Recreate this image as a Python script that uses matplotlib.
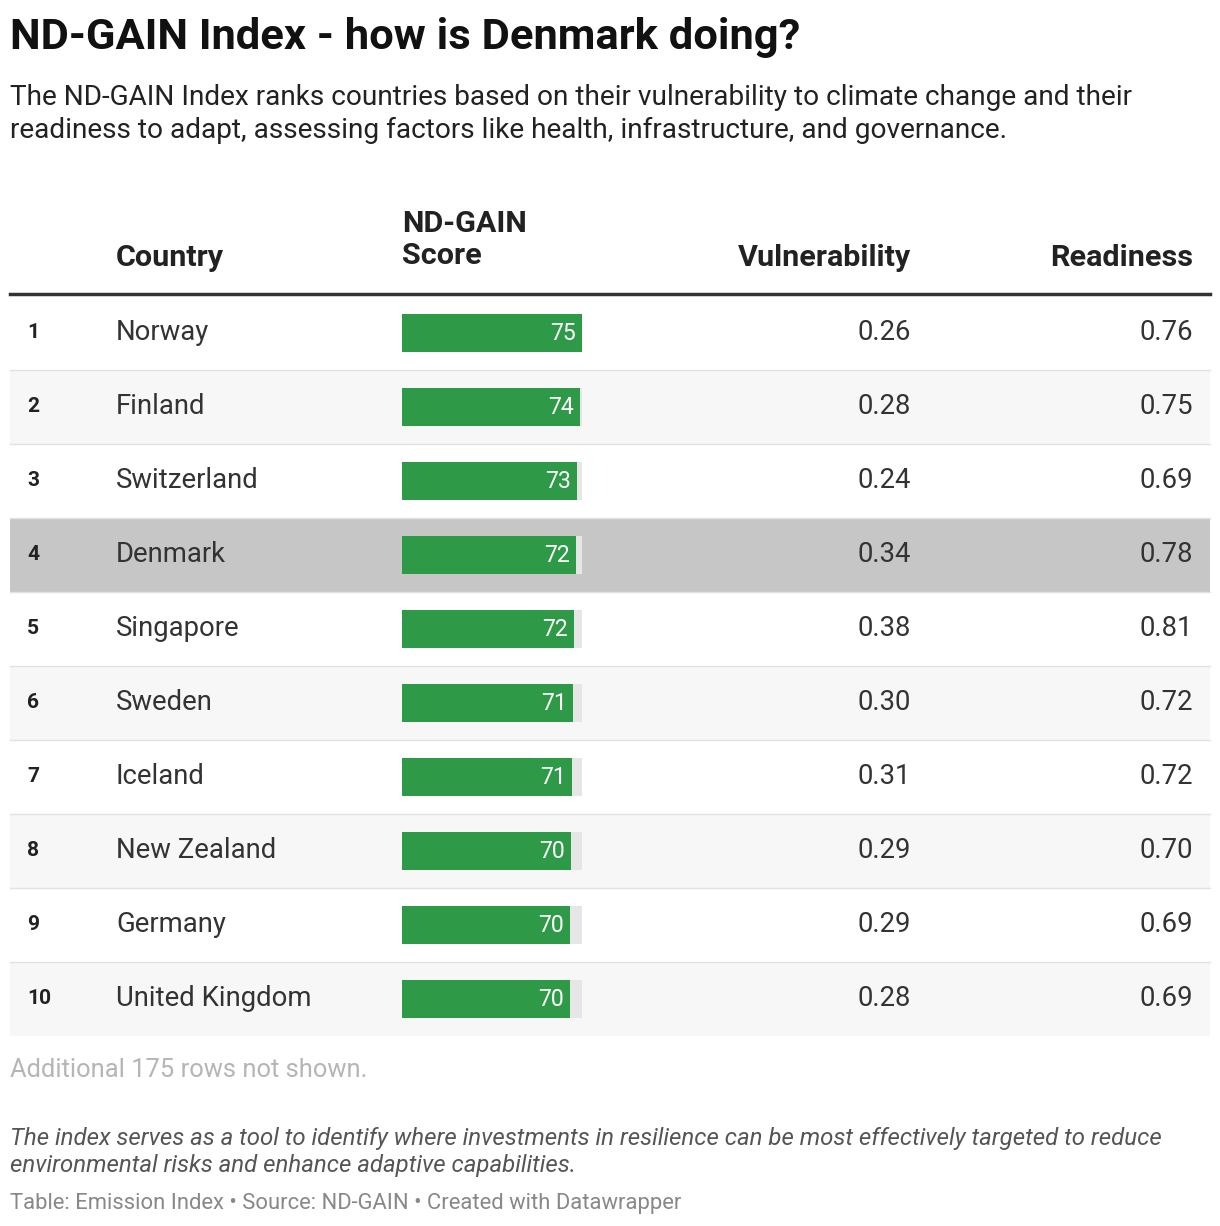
import matplotlib
matplotlib.use('Agg')
import matplotlib.pyplot as plt
from matplotlib.patches import Rectangle

plt.rcParams['font.family'] = ['Roboto', 'DejaVu Sans']

ranks = [1, 2, 3, 4, 5, 6, 7, 8, 9, 10]
countries = ['Norway', 'Finland', 'Switzerland', 'Denmark', 'Singapore',
             'Sweden', 'Iceland', 'New Zealand', 'Germany', 'United Kingdom']
scores = [75.0, 74.3, 72.8, 72.4, 71.7, 71.3, 71.0, 70.3, 70.1, 70.0]
vulnerability = ['0.26', '0.28', '0.24', '0.34', '0.38', '0.30', '0.31', '0.29', '0.29', '0.28']
readiness = ['0.76', '0.75', '0.69', '0.78', '0.81', '0.72', '0.72', '0.70', '0.69', '0.69']
highlight = 'Denmark'

W, H = 1220, 1226
fig = plt.figure(figsize=(W / 100, H / 100), dpi=100)
ax = fig.add_axes([0, 0, 1, 1])
ax.set_xlim(0, W)
ax.set_ylim(H, 0)
ax.axis('off')

def px(s):
    return s * 72 / 100

ax.text(10, 37, 'ND-GAIN Index - how is Denmark doing?', fontsize=px(43.5),
        fontweight='bold', va='center', color='#111111')
ax.text(10, 114, 'The ND-GAIN Index ranks countries based on their vulnerability to climate change and their\n'
        'readiness to adapt, assessing factors like health, infrastructure, and governance.',
        fontsize=px(28), va='center', color='#222222', linespacing=1.32)

hdr = dict(fontsize=px(30.5), fontweight='bold', va='center', color='#222222')
ax.text(116, 258, 'Country', **hdr)
ax.text(402, 240, 'ND-GAIN\nScore', linespacing=1.15, **hdr)
ax.text(911, 258, 'Vulnerability', ha='right', **hdr)
ax.text(1193, 258, 'Readiness', ha='right', **hdr)
ax.plot([10, 1210], [294, 294], color='#333333', lw=2.5)

top, rh = 296, 74
bar_x, bar_w, bar_h, vmax = 402, 180, 38, 75.0
body = dict(fontsize=px(27.5), va='center', color='#333333')
for i, (r, c, s, v, rd) in enumerate(zip(ranks, countries, scores, vulnerability, readiness)):
    y0 = top + i * rh
    yc = y0 + rh / 2
    if c == highlight:
        ax.add_patch(Rectangle((10, y0), 1200, rh, color='#c6c6c6', lw=0))
    elif i % 2 == 1:
        ax.add_patch(Rectangle((10, y0), 1200, rh, color='#f7f7f7', lw=0))
    if i > 0:
        ax.plot([10, 1210], [y0, y0], color='#e2e2e2', lw=1)
    ax.add_patch(Rectangle((bar_x, yc - bar_h / 2), bar_w, bar_h, color='#e6e6e6', lw=0))
    bw = bar_w * s / vmax
    ax.add_patch(Rectangle((bar_x, yc - bar_h / 2), bw, bar_h, color='#2e9a47', lw=0))
    ax.text(bar_x + bw - 6, yc, '%d' % round(s), ha='right', va='center',
            fontsize=px(23), color='white')
    ax.text(27, yc, str(r), fontsize=px(21), fontweight='bold', va='center', color='#222222')
    ax.text(116, yc, c, **body)
    ax.text(911, yc, v, ha='right', **body)
    ax.text(1193, yc, rd, ha='right', **body)

ax.text(10, 1070, 'Additional 175 rows not shown.', fontsize=px(25.5), va='center',
        color='#b5b5b5')
ax.text(10, 1152, 'The index serves as a tool to identify where investments in resilience can be most effectively targeted to reduce\n'
        'environmental risks and enhance adaptive capabilities.', fontsize=px(24),
        style='italic', va='center', color='#555555', linespacing=1.27)
ax.text(10, 1203, 'Table: Emission Index \u2022 Source: ND-GAIN \u2022 Created with Datawrapper',
        fontsize=px(22), va='center', color='#888888')

fig.savefig('out.png', dpi=100, facecolor='white')
